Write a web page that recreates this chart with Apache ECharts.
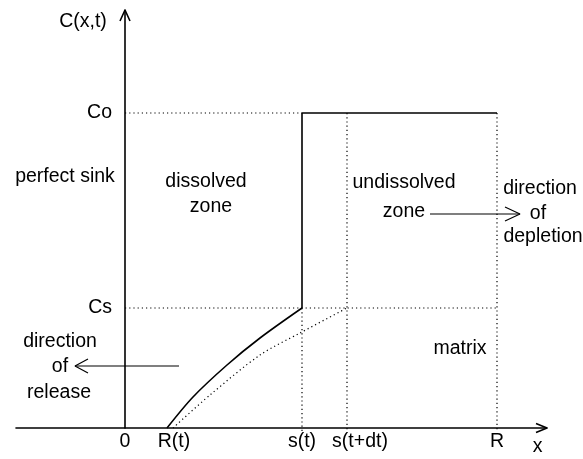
<!DOCTYPE html>
<html>
<head>
<meta charset="utf-8">
<script src="https://cdn.jsdelivr.net/npm/echarts@6/dist/echarts.min.js"></script>
<style>
  html, body { margin: 0; padding: 0; background: #fff; }
  #chart { width: 583px; height: 459px; }
</style>
</head>
<body>
<div id="chart"></div>
<script>
// positions on the x axis: 0, R(t), s(t), s(t+dt), R
const xTickValues = [0, 0.42, 1.77, 2.22, 3.72]
const xTickLabels = ['0', 'R(t)', 's(t)', 's(t+dt)', 'R']
// concentration levels: Cs, Co
const yTickValues = [1.2, 3.15]
const yTickLabels = ['Cs', 'Co']
// concentration profile at t (solid) and at t+dt (dotted)
const frontCurve = [[0.42, 0], [0.68, 0.31], [1.02, 0.63], [1.35, 0.90], [1.77, 1.20]]
const nextCurve = [[0.48, 0], [0.85, 0.33], [1.35, 0.73], [1.75, 0.95], [2.22, 1.20]]
const noteTexts = ['C(x,t)', 'perfect sink', 'dissolved', 'zone', 'undissolved', 'zone',
    'direction', 'of', 'depletion', 'direction', 'of', 'release', 'matrix', 'x']

const [x0, xRt, xSt, xStdt, xR] = xTickValues
const [cs, co] = yTickValues

const FONT = 'Liberation Sans, Arial, sans-serif'
const FS = 19.5

const myChart = echarts.init(document.getElementById('chart'))

const solid = {color: '#000', width: 1.6}
const dotted = {color: '#000', width: 1.2, type: [1.2, 3]}

function line(data, style, smooth) {
    return {
        type: 'line', data, symbol: 'none', clip: false, silent: true,
        smooth: smooth || false, lineStyle: style
    }
}

// note positions in data units, same order as noteTexts
const notePos = [
    [-0.42, 4.06], [-0.60, 2.51], [0.81, 2.46], [0.86, 2.21], [2.79, 2.45], [2.79, 2.16],
    [4.15, 2.39], [4.13, 2.14], [4.18, 1.91], [-0.65, 0.86], [-0.65, 0.61], [-0.66, 0.35],
    [3.35, 0.79], [4.125, -0.19]
]

myChart.setOption({
    animation: false,
    backgroundColor: '#fff',
    grid: {left: 16, right: 36, top: 10, bottom: 31, containLabel: false, outerBoundsMode: 'none'},
    xAxis: {
        type: 'value', min: -1.09, max: 4.22,
        splitLine: {show: false},
        axisTick: {show: false},
        axisLine: {lineStyle: {color: '#000', width: 1.6}},
        axisLabel: {
            customValues: xTickValues,
            margin: 4,
            color: '#000', fontSize: FS, fontFamily: FONT,
            formatter: (v) => {
                const i = xTickValues.indexOf(v)
                if (i === 1) return '{a|' + xTickLabels[i] + '}'
                if (i === 3) return '{b|' + xTickLabels[i] + '}'
                return xTickLabels[i] || ''
            },
            rich: {
                a: {padding: [0, 0, 0, 14], fontSize: FS, fontFamily: FONT, color: '#000'},
                b: {padding: [0, 0, 0, 26], fontSize: FS, fontFamily: FONT, color: '#000'}
            }
        }
    },
    yAxis: {
        type: 'value', min: 0, max: 4.18,
        splitLine: {show: false},
        axisTick: {show: false},
        axisLine: {lineStyle: {color: '#000', width: 1.6}},
        axisLabel: {
            customValues: yTickValues,
            // labels sit left of the y axis line, which is drawn at x = 0
            margin: -96,
            color: '#000', fontSize: FS, fontFamily: FONT,
            formatter: (v) => yTickLabels[yTickValues.indexOf(v)] || ''
        }
    },
    series: [
        // guide lines
        line([[x0, co], [xSt, co]], dotted),
        line([[x0, cs], [xR, cs]], dotted),
        line([[xSt, cs], [xSt, -0.04]], dotted),
        line([[xStdt, co], [xStdt, -0.02]], dotted),
        line([[xR, co], [xR, -0.02]], dotted),
        // profiles
        line(nextCurve, dotted, 0.3),
        line(frontCurve, solid, 0.3),
        line([[xSt, cs], [xSt, co], [xR, co]], solid),
        // axis arrow heads
        line([[-0.05, 4.07], [0, 4.18], [0.05, 4.07]], {color: '#000', width: 1.6}),
        line([[4.11, 0.045], [4.22, 0], [4.11, -0.045]], {color: '#000', width: 1.6}),
        // direction of release
        line([[0.54, 0.62], [-0.50, 0.62]], {color: '#000', width: 1.2}),
        line([[-0.37, 0.69], [-0.50, 0.62], [-0.37, 0.55]], {color: '#000', width: 1.2}),
        // direction of depletion
        line([[3.05, 2.14], [3.95, 2.14]], {color: '#000', width: 1.2}),
        line([[3.80, 2.21], [3.95, 2.14], [3.80, 2.07]], {color: '#000', width: 1.2}),
        // text notes
        {
            type: 'scatter', symbolSize: 0, clip: false, silent: true,
            itemStyle: {opacity: 1},
            data: noteTexts.map((t, i) => [notePos[i][0], notePos[i][1], t]),
            label: {
                show: true, position: 'inside',
                formatter: (p) => p.data[2],
                color: '#000', textBorderWidth: 0, fontSize: FS, fontFamily: FONT
            }
        }
    ]
})
</script>
</body>
</html>
